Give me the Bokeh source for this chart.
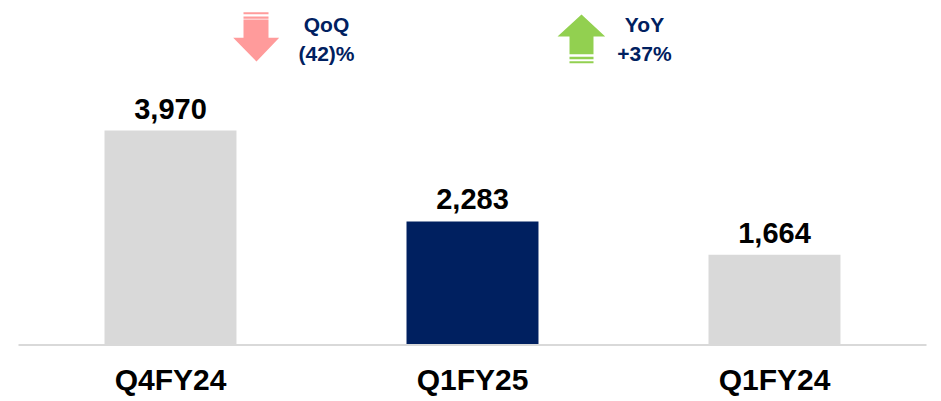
from bokeh.plotting import figure
from bokeh.models import Range1d, ColumnDataSource
from bokeh.core.properties import value
from bokeh.embed import file_html
from bokeh.resources import INLINE

# ---- data ----
categories = ["Q4FY24", "Q1FY25", "Q1FY24"]
values = [3970, 2283, 1664]
value_labels = ["3,970", "2,283", "1,664"]
bar_colors = ["#d9d9d9", "#002060", "#d9d9d9"]
qoq_text = ["QoQ", "(42)%"]
yoy_text = ["YoY", "+37%"]

FONT = value("Liberation Sans")
NAVY = "#002060"

positions = list(range(len(categories)))

W, H = 941, 401
p = figure(width=W, height=H, output_backend="svg", toolbar_location=None,
           x_range=Range1d(-0.5629, 2.553),
           y_range=Range1d(-1057.5, 6382),
           min_border=0)
p.extra_x_ranges = {"px": Range1d(0, W)}
p.extra_y_ranges = {"px": Range1d(H, 0)}
p.xaxis.visible = False
p.yaxis.visible = False
p.xgrid.visible = False
p.ygrid.visible = False
p.outline_line_color = None
p.background_fill_color = "white"
p.border_fill_color = "white"

src = ColumnDataSource(dict(x=positions, cat=categories, top=values, lab=value_labels,
                            color=bar_colors))

p.vbar(x="x", top="top", bottom=0, width=0.437, fill_color="color", line_color=None, source=src)

# baseline
p.segment(x0=[18], y0=[344.5], x1=[926], y1=[344.5], line_color="#d9d9d9", line_width=2,
          x_range_name="px", y_range_name="px")

# value labels
p.text(x="x", y="top", text="lab", source=src, y_offset=-22, text_align="center",
       text_baseline="alphabetic", text_font=FONT, text_font_style="bold",
       text_font_size="29px", text_color="black")

# category labels
p.text(x=positions, y=[379] * 3, text=categories, y_range_name="px", text_align="center",
       text_baseline="alphabetic", text_font=FONT, text_font_style="bold",
       text_font_size="30px", text_color="black")

# down arrow (QoQ)
p.patch(x=[243, 268, 268, 278.7, 256, 232.7, 243], y=[19, 19, 37.3, 37.3, 61, 37.3, 37.3],
        fill_color="#ff9b9b", line_color=None, x_range_name="px", y_range_name="px")
p.quad(left=[243, 243], right=[268, 268], top=[11.7, 16], bottom=[13.7, 18.3],
       fill_color="#ff9b9b", line_color=None, x_range_name="px", y_range_name="px")

# up arrow (YoY)
p.patch(x=[581, 604.7, 593, 593, 569, 569, 557], y=[14, 36, 36, 53.7, 53.7, 36, 36],
        fill_color="#92d050", line_color=None, x_range_name="px", y_range_name="px")
p.quad(left=[569, 569], right=[593, 593], top=[56.3, 60.7], bottom=[58.7, 62.7],
       fill_color="#92d050", line_color=None, x_range_name="px", y_range_name="px")

# change texts
p.text(x=[326, 326], y=[23.5, 53], text=qoq_text, x_range_name="px", y_range_name="px",
       text_align="center", text_baseline="alphabetic", text_font=FONT,
       text_font_style="bold", text_font_size="21px", text_color=NAVY)
p.text(x=[644, 644], y=[24, 53], text=yoy_text, x_range_name="px", y_range_name="px",
       text_align="center", text_baseline="alphabetic", text_font=FONT,
       text_font_style="bold", text_font_size="21px", text_color=NAVY)

open("out.html", "w").write(file_html(p, INLINE))
